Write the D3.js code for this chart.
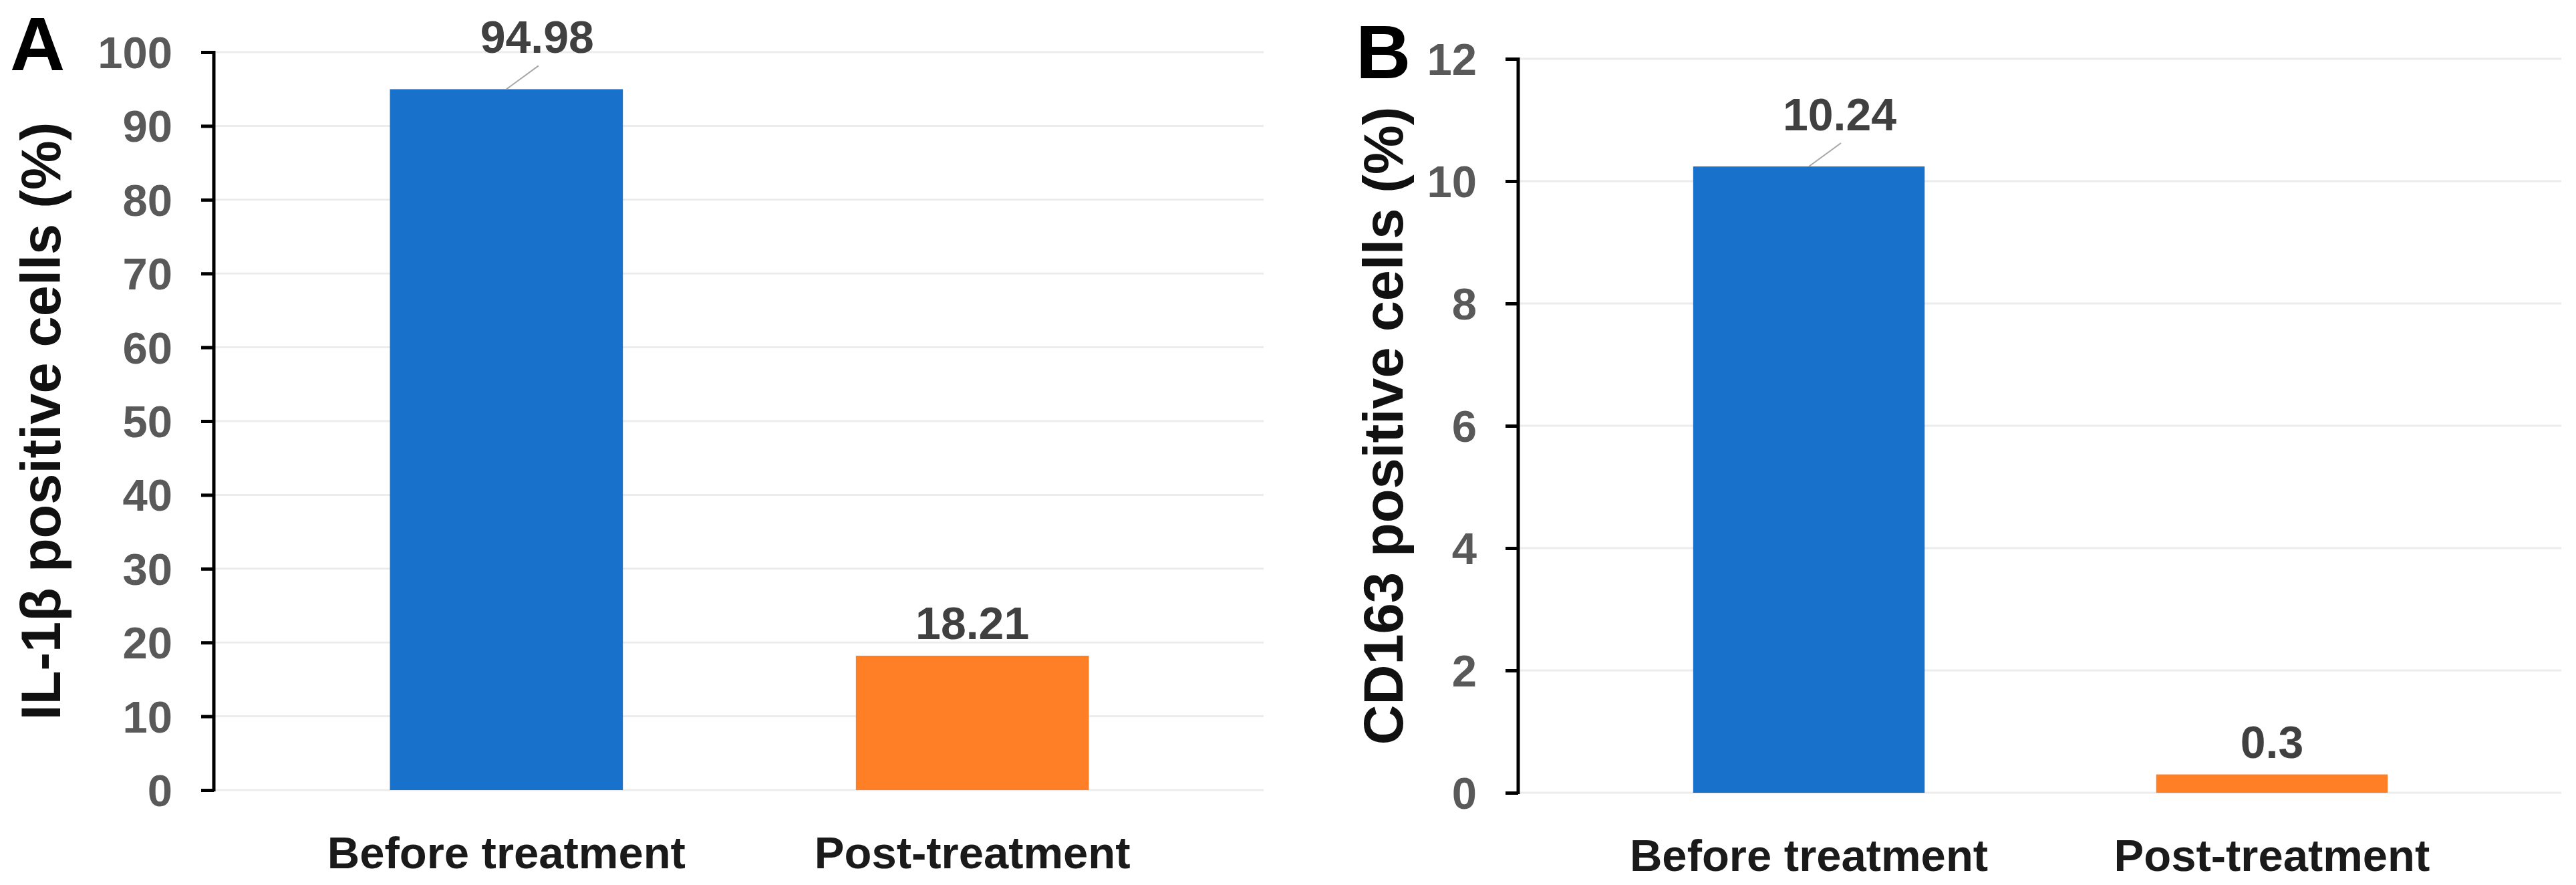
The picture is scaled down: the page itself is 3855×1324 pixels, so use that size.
<!DOCTYPE html>
<html>
<head>
<meta charset="utf-8">
<script src="https://cdn.jsdelivr.net/npm/d3@7"></script>
<style>
  html, body { margin: 0; padding: 0; background: #ffffff; }
  svg { display: block; }
  text { font-family: "Liberation Sans", Arial, Helvetica, sans-serif; font-weight: bold; }
</style>
</head>
<body>
<script>
// ---- data ----
const categories = ["Before treatment", "Post-treatment"];
const il1bValues = [94.98, 18.21];
const cd163Values = [10.24, 0.3];
const il1bTicks = [0, 10, 20, 30, 40, 50, 60, 70, 80, 90, 100];
const cd163Ticks = [0, 2, 4, 6, 8, 10, 12];
const panelLetters = ["A", "B"];
const yTitles = ["IL-1\u03B2 positive cells (%)", "CD163 positive cells (%)"];
const barColors = ["#1872CB", "#FF7F27"];

// ---- layout ----
const W = 3855, H = 1324;
const svg = d3.select("body").append("svg")
  .attr("width", W).attr("height", H)
  .attr("viewBox", `0 0 ${W} ${H}`);
svg.append("rect").attr("width", W).attr("height", H).attr("fill", "#ffffff");

const panels = [
  { letter: panelLetters[0], title: yTitles[0], values: il1bValues, ticks: il1bTicks,
    x0: 322, x1: 1891, yTop: 78, yBot: 1182, letterX: 15, letterY: 105, titleX: 90,
    leader: [true, false] },
  { letter: panelLetters[1], title: yTitles[1], values: cd163Values, ticks: cd163Ticks,
    x0: 2274, x1: 3833, yTop: 88, yBot: 1186, letterX: 2029, letterY: 117, titleX: 2099,
    leader: [true, false] }
];

panels.forEach(p => {
  const g = svg.append("g");
  const x = d3.scaleBand().domain(categories).range([p.x0, p.x1])
    .paddingInner(0.5).paddingOuter(0.375);
  const y = d3.scaleLinear().domain([0, d3.max(p.ticks)]).range([p.yBot, p.yTop]);

  // gridlines
  g.append("g").selectAll("line").data(p.ticks).join("line")
    .attr("x1", p.x0).attr("x2", p.x1)
    .attr("y1", d => y(d)).attr("y2", d => y(d))
    .attr("stroke", "#ECECEC").attr("stroke-width", 3);

  // bars
  const data = categories.map((c, i) => ({ c, v: p.values[i], i }));
  g.append("g").selectAll("rect").data(data).join("rect")
    .attr("x", d => x(d.c)).attr("width", x.bandwidth())
    .attr("y", d => y(d.v)).attr("height", d => y(0) - y(d.v))
    .attr("fill", d => barColors[d.i]);

  // y axis
  const axis = d3.axisLeft(y).tickValues(p.ticks).tickFormat(d3.format("d"))
    .tickSize(19).tickSizeOuter(0).tickPadding(43);
  const ag = g.append("g").attr("transform", `translate(${p.x0 - 2},0)`).call(axis);
  ag.select(".domain").attr("stroke", "#000").attr("stroke-width", 5)
    .attr("d", `M0,${p.yTop - 2}V${p.yBot + 2}`);
  ag.selectAll(".tick line").attr("stroke", "#000").attr("stroke-width", 5);
  ag.selectAll(".tick text").attr("fill", "#595959").attr("font-size", 67)
    .attr("font-family", "'Liberation Sans', Arial, sans-serif").attr("font-weight", "bold")
    .attr("dy", "0.35em");

  // value labels
  data.forEach(d => {
    const cx = x(d.c) + x.bandwidth() / 2;
    const top = y(d.v);
    if (p.leader[d.i]) {
      g.append("line")
        .attr("x1", cx).attr("y1", top)
        .attr("x2", cx + 48).attr("y2", top - 35)
        .attr("stroke", "#A6A6A6").attr("stroke-width", 2);
      g.append("text").attr("x", cx + 46).attr("y", top - 54)
        .attr("text-anchor", "middle").attr("font-size", 68).attr("fill", "#404040")
        .text(String(d.v));
    } else {
      g.append("text").attr("x", cx).attr("y", top - 25)
        .attr("text-anchor", "middle").attr("font-size", 68).attr("fill", "#404040")
        .text(String(d.v));
    }
  });

  // x category labels
  g.append("g").selectAll("text").data(categories).join("text")
    .attr("x", d => x(d) + x.bandwidth() / 2).attr("y", p.yBot + 117)
    .attr("text-anchor", "middle").attr("font-size", 67).attr("fill", "#1A1A1A")
    .text(d => d);

  // y title
  g.append("text")
    .attr("transform", `translate(${p.titleX},${(p.yTop + p.yBot) / 2}) rotate(-90)`)
    .attr("text-anchor", "middle").attr("font-size", 83).attr("fill", "#111111")
    .text(p.title);

  // panel letter
  g.append("text").attr("x", p.letterX).attr("y", p.letterY)
    .attr("font-size", 114).attr("fill", "#000000")
    .text(p.letter);
});
</script>
</body>
</html>
